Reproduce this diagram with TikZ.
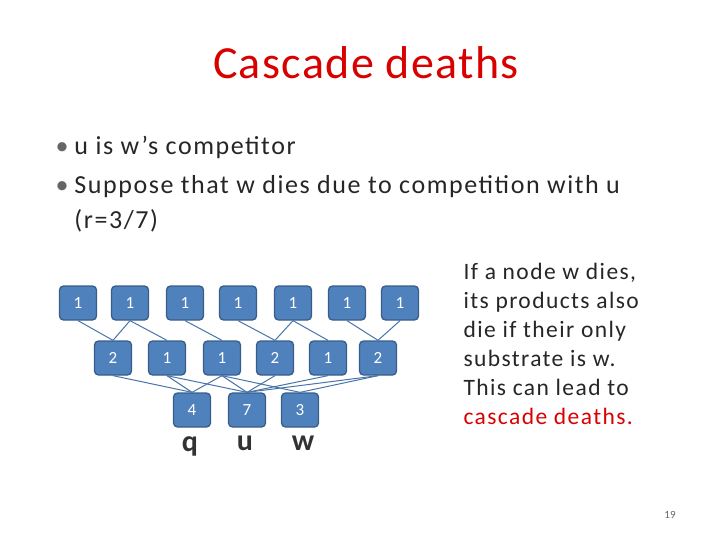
\documentclass[tikz,border=0pt]{standalone}
\usepackage{fontspec}
\setmainfont{Carlito}
\newfontfamily\spaced[LetterSpace=6]{Carlito}
\newfontfamily\tspaced[LetterSpace=3]{Carlito}
\begin{document}
\begin{tikzpicture}[x=1pt,y=-1pt,
  nb/.style={draw=nbd,fill=nbf,line width=1.3pt,rounded corners=4pt,minimum width=37pt,minimum height=34pt,inner sep=0pt,text=white,font=\fontsize{17}{17}\selectfont},
  ed/.style={draw=nbf!90!black,line width=1pt},
  lb/.style={font=\fontsize{30}{30}\selectfont\bfseries,text=black!80}]
\definecolor{nbf}{HTML}{4F81BD}\definecolor{nbd}{HTML}{385D8A}
\useasboundingbox (0,0) rectangle (720,540);
\node[text=red!85!black,font=\tspaced\fontsize{46}{46}\selectfont] (title) at (366,63) {Cascade deaths};
\node[anchor=west,font=\spaced\fontsize{26}{35}\selectfont,text=black!85,align=left] (b1) at (52,147) {\textcolor{black!60}{\textbullet}\hspace{6pt}u is w’s competitor};
\node[anchor=north west,font=\spaced\fontsize{26}{35}\selectfont,text=black!85,align=left] (b2) at (52,172) {\textcolor{black!60}{\textbullet}\hspace{6pt}Suppose that w dies due to competition with u\\\hphantom{\textbullet}\hspace{6pt}(r=3/7)};
\foreach \i/\x in {1/78,2/130,3/185,4/238,5/293,6/347,7/400}{\node[nb] (t\i) at (\x,303) {1};}
\foreach \i/\x/\v in {1/113/2,2/167/1,3/222/1,4/275/2,5/328/1,6/378/2}{\node[nb] (m\i) at (\x,358) {\v};}
\foreach \i/\x/\v in {1/192/4,2/247/7,3/300/3}{\node[nb] (d\i) at (\x,410) {\v};}
\foreach \a/\b in {1/1,2/1,2/2,3/3,4/4,5/4,5/5,6/6,7/6}{\draw[ed] (t\a.south) -- (m\b.north);}
\foreach \a/\b in {1/1,2/1,2/2,3/1,3/2,3/3,4/2,5/2,6/2,6/3}{\draw[ed] (m\a.south) -- (d\b.north);}
\node[lb] (q) at (190,446) {q};
\node[lb] (u) at (245,443) {u};
\node[lb] (w) at (303,443) {w};
\node[anchor=north west,align=left,font=\spaced\fontsize{23.5}{29}\selectfont,text=black!85] (r) at (460,260) {If a node w dies,\\its products also\\die if their only\\substrate is w.\\This can lead to\\\textcolor{red!85!black}{cascade deaths.}};
\node[text=black!60,font=\fontsize{11}{11}\selectfont] (pg) at (670,515) {19};
\end{tikzpicture}
\end{document}
